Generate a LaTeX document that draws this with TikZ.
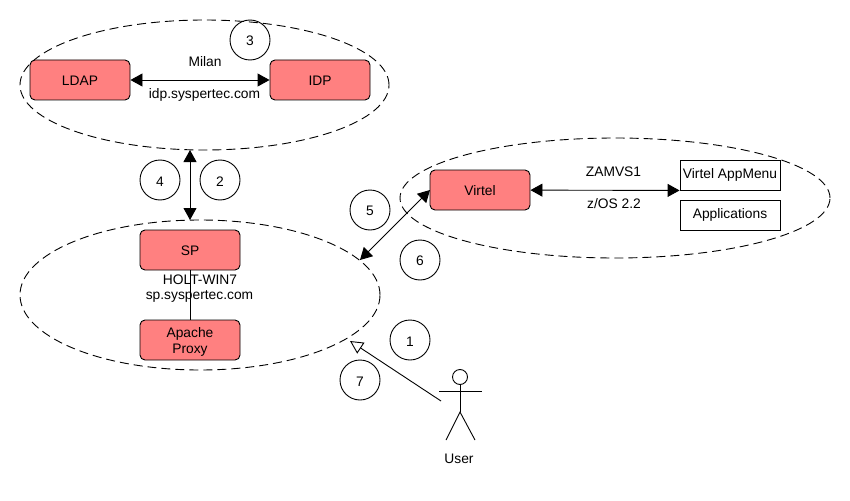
\documentclass[tikz,border=0pt]{standalone}
\usepackage{fontspec}
\setmainfont{Liberation Sans}
\usetikzlibrary{arrows.meta,shapes.geometric}
\definecolor{boxred}{HTML}{FF8080}
\tikzset{
	zone/.style={draw, ellipse, dash pattern=on 9pt off 5pt, inner sep=0pt},
	server/.style={draw, rounded corners=5pt, fill=boxred, minimum width=100pt, minimum height=40pt, inner sep=0pt, align=center, text height=12pt},
	app/.style={draw, minimum width=100pt, inner sep=0pt},
	step circle/.style={draw, circle, minimum size=40pt, inner sep=0pt, text height=12pt},
	label/.style={inner sep=0pt},
	both/.style={{Triangle[length=12pt,width=13pt]}-{Triangle[length=12pt,width=13pt]}},
	open/.style={-{Triangle[open,length=13pt,width=13pt]}}
}
\begin{document}
\begin{tikzpicture}[x=1pt, y=1pt, line width=0.9pt, font=\fontsize{13.8pt}{16pt}\selectfont]
	\useasboundingbox (0,0) rectangle (850,-500);
	\node (milan zone) [zone, minimum width=369pt, minimum height=130pt] at (204.5,-85) {};
	\node (holt zone) [zone, minimum width=360pt, minimum height=150pt] at (200,-295) {};
	\node (zamvs zone) [zone, minimum width=430pt, minimum height=120pt] at (615,-198) {};

	\node (ldap) [server] at (80,-80) {LDAP};
	\node (idp) [server] at (320,-80) {IDP};
	\node (sp) [server] at (190,-250) {SP};
	\node (proxy) [server, text height=30pt] at (190,-340) {Apache\\Proxy};
	\node (virtel) [server] at (480,-190) {Virtel};
	\node (appmenu) [app, minimum height=30pt] at (730,-175) {Virtel AppMenu};
	\node (apps) [app, minimum height=30pt] at (730,-215) {Applications};

	\node (n1) [step circle] at (410,-340) {1};
	\node (n2) [step circle] at (220,-180) {2};
	\node (n3) [step circle] at (250,-40) {3};
	\node (n4) [step circle] at (160,-180) {4};
	\node (n5) [step circle] at (370,-210) {5};
	\node (n6) [step circle] at (420,-260) {6};
	\node (n7) [step circle] at (360,-380) {7};

	\node (milan) [label] at (205,-62) {Milan};
	\node (idp host) [label] at (204.5,-95) {idp.syspertec.com};
	\node (holt) [label] at (200,-280) {HOLT-WIN7};
	\node (sp host) [label] at (199.5,-296) {sp.syspertec.com};
	\node (zamvs) [label] at (613.5,-172) {ZAMVS1};
	\node (zos) [label] at (614,-204) {z/OS 2.2};
	\node (user) [label] at (459,-459) {User};

	% free ends of the links
	\coordinate (milan end) at (190,-150);
	\coordinate (holt end) at (190,-220);
	\coordinate (virtel west) at (430,-190);
	\coordinate (holt east) at (360,-260);
	\coordinate (menu corner) at (appmenu.south west);
	\coordinate (proxy end) at (350,-341);
	\coordinate (user hand) at (441,-401);

	\draw [both] (ldap) -- (idp);
	\draw [both] (milan end) -- (holt end);
	\draw [both] (virtel) -- (menu corner);
	\draw [both] (virtel west) -- (holt east);
	\draw (sp) -- (proxy);
	\draw [open] (user hand) -- (proxy end);

	% stick figure
	\node (head) [draw, circle, minimum size=15pt, inner sep=0pt] at (460,-377) {};
	\coordinate (arm l) at (439,-391);
	\coordinate (arm r) at (482,-391);
	\coordinate (hip) at (460,-412);
	\coordinate (foot l) at (446,-440);
	\coordinate (foot r) at (475,-440);
	\draw (head) -- (hip);
	\draw (arm l) -- (arm r);
	\draw (foot l) -- (hip) -- (foot r);
\end{tikzpicture}
\end{document}
